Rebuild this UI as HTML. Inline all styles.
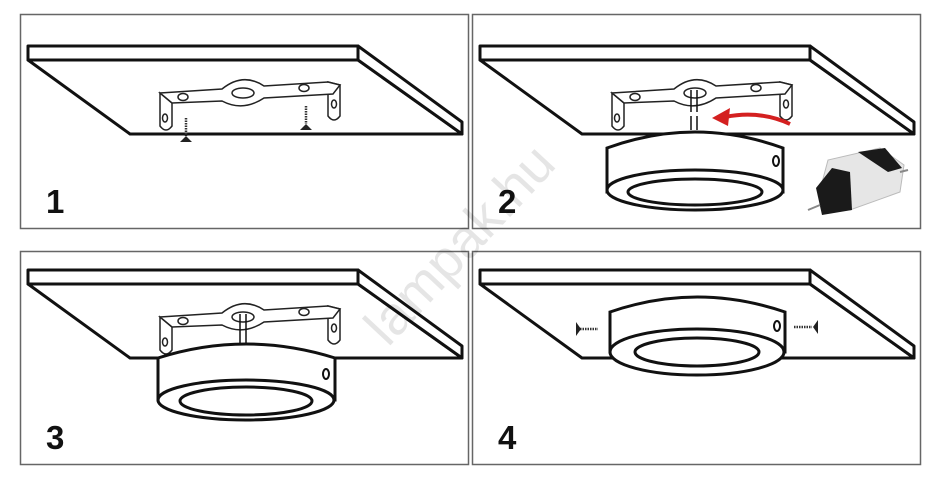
<!DOCTYPE html>
<html><head><meta charset="utf-8"><style>
html,body{margin:0;padding:0;background:#fff;width:940px;height:492px;overflow:hidden}
svg{display:block}
</style></head><body>
<svg width="940" height="492" viewBox="0 0 940 492" xmlns="http://www.w3.org/2000/svg">
<defs>
<g id="ceil" fill="#fff" stroke="#111" stroke-width="3" stroke-linejoin="round">
  <path d="M28,60 L130,134 L462,134 L358,60 Z"/>
  <path d="M358,46 L462,122 L462,134 L358,60 Z"/>
  <path d="M28,46 L358,46 L358,60 L28,60 Z"/>
</g>
<g id="bracket" fill="#fff" stroke="#222" stroke-width="1.5">
  <path d="M160,93 L160,126 Q166,134 172,126 L172,103 Z"/>
  <path d="M328,82 L328,116 Q334,124 340,116 L340,85 Z"/>
  <path d="M160,93 L222,89 Q243,72 264,86 L328,82 L340,85 L333,94 L264,98 Q243,112 222,101 L172,103 Z"/>
  <ellipse cx="243" cy="93" rx="11" ry="5"/>
  <ellipse cx="183" cy="97" rx="5" ry="3.5"/>
  <ellipse cx="304" cy="88" rx="5" ry="3.5"/>
  <ellipse cx="165" cy="118" rx="2.5" ry="4"/>
  <ellipse cx="334" cy="104" rx="2.5" ry="4"/>
</g>
</defs>
<rect x="20.5" y="14.5" width="448" height="214" fill="none" stroke="#666" stroke-width="1.5"/>
<rect x="472.5" y="14.5" width="448" height="214" fill="none" stroke="#666" stroke-width="1.5"/>
<rect x="20.5" y="251.5" width="448" height="213" fill="none" stroke="#666" stroke-width="1.5"/>
<rect x="472.5" y="251.5" width="448" height="213" fill="none" stroke="#666" stroke-width="1.5"/>

<!-- panel 1 -->
<use href="#ceil"/>
<use href="#bracket"/>
<g stroke="#333" stroke-width="2.5">
 <line x1="186" y1="118" x2="186" y2="136" stroke-dasharray="1.5 1"/>
 <line x1="306" y1="106" x2="306" y2="124" stroke-dasharray="1.5 1"/>
</g>
<path d="M180,142 L192,142 L186,136 Z M300,130 L312,130 L306,124 Z" fill="#222"/>
<text x="46" y="213" font-family="Liberation Sans, sans-serif" font-size="33" font-weight="bold" fill="#111">1</text>

<!-- panel 2 -->
<g transform="translate(452,0)"><use href="#ceil"/><use href="#bracket"/></g>
<g stroke="#111" stroke-width="1.5">
 <line x1="691" y1="90" x2="691" y2="130"/><line x1="697" y1="90" x2="697" y2="130"/>
</g>
<rect x="689" y="112" width="10" height="4" fill="#fff"/>
<path d="M790,124 Q760,110 725,117" fill="none" stroke="#d42020" stroke-width="4"/>
<path d="M712,118 L730,108 L728,126 Z" fill="#d42020"/>
<g fill="#fff" stroke="#111" stroke-width="3">
 <path d="M607,148 Q695,116 783,148 L783,192 L607,192 Z"/>
 <ellipse cx="695" cy="190" rx="88" ry="20"/>
 <ellipse cx="695" cy="192" rx="67" ry="13"/>
</g>
<ellipse cx="776" cy="161" rx="3" ry="5" fill="none" stroke="#111" stroke-width="2"/>
<g>
 <path d="M820,190 L828,160 L880,148 L904,165 L900,192 L850,210 Z" fill="#e6e6e6" stroke="#bbb"/>
 <path d="M858,152 L885,148 L902,168 L888,172 Z" fill="#1a1a1a"/>
 <path d="M816,188 L832,168 L850,172 L852,210 L822,215 Z" fill="#1a1a1a"/>
 <line x1="820" y1="205" x2="808" y2="210" stroke="#888" stroke-width="2"/>
 <line x1="900" y1="172" x2="908" y2="170" stroke="#888" stroke-width="2"/>
</g>
<text x="498" y="213" font-family="Liberation Sans, sans-serif" font-size="33" font-weight="bold" fill="#111">2</text>

<!-- panel 3 -->
<g transform="translate(0,224)"><use href="#ceil"/><use href="#bracket"/></g>
<g stroke="#111" stroke-width="1.5">
 <line x1="240" y1="314" x2="240" y2="345"/><line x1="246" y1="314" x2="246" y2="345"/>
</g>
<g fill="#fff" stroke="#111" stroke-width="3">
 <path d="M158,358 Q246,330 335,358 L335,400 L158,400 Z"/>
 <ellipse cx="246" cy="400" rx="88" ry="20"/>
 <ellipse cx="246" cy="401" rx="66" ry="14"/>
</g>
<ellipse cx="326" cy="374" rx="3" ry="5" fill="none" stroke="#111" stroke-width="2"/>
<text x="46" y="449" font-family="Liberation Sans, sans-serif" font-size="33" font-weight="bold" fill="#111">3</text>

<!-- panel 4 -->
<g transform="translate(452,224)"><use href="#ceil"/></g>
<g fill="#fff" stroke="#111" stroke-width="3">
 <path d="M610,312 Q697,282 785,312 L785,352 L610,352 Z"/>
 <ellipse cx="697" cy="352" rx="87" ry="23"/>
 <ellipse cx="697" cy="352" rx="62" ry="14"/>
</g>
<ellipse cx="777" cy="326" rx="3" ry="5" fill="none" stroke="#111" stroke-width="2"/>
<g stroke="#333" stroke-width="2.5">
 <line x1="580" y1="329" x2="598" y2="329" stroke-dasharray="1.5 1"/>
 <line x1="794" y1="327" x2="812" y2="327" stroke-dasharray="1.5 1"/>
</g>
<path d="M576,322 L576,336 L581,329 Z M818,320 L818,334 L813,327 Z" fill="#222"/>
<text x="498" y="449" font-family="Liberation Sans, sans-serif" font-size="33" font-weight="bold" fill="#111">4</text>

<!-- watermark -->
<text x="0" y="0" transform="translate(388,348) rotate(-47)" font-family="Liberation Sans, sans-serif" font-size="54" fill="#000" fill-opacity="0.1">lampak.hu</text>
</svg>
</body></html>
